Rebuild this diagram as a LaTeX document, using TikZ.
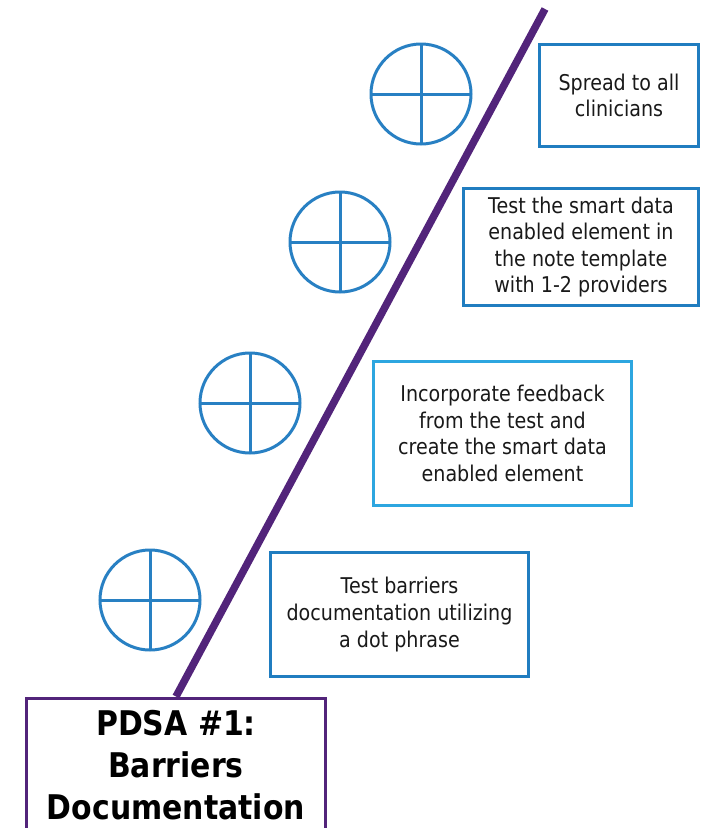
\documentclass[tikz,border=0pt]{standalone}
\usepackage{fontspec}
\setmainfont{DejaVu Sans}[FakeStretch=0.88]
\definecolor{stepblue}{RGB}{32,125,192}
\definecolor{lightblue}{RGB}{45,166,224}
\definecolor{circblue}{RGB}{40,128,195}
\definecolor{pdsapurple}{RGB}{82,36,122}
\tikzset{
  stepbox/.style={draw=stepblue, line width=3pt, rectangle, align=center, inner sep=0pt,
    font=\fontsize{21.7}{26.6}\selectfont, text=black!90},
  cycle/.style={draw=circblue, line width=3pt, circle, minimum size=100pt, inner sep=0pt,
    path picture={
      \draw[circblue, line width=3pt] (path picture bounding box.north) -- (path picture bounding box.south);
      \draw[circblue, line width=3pt] (path picture bounding box.west) -- (path picture bounding box.east);
    }},
  titlebox/.style={draw=pdsapurple, line width=3pt, rectangle, align=center, inner sep=0pt,
    font=\fontsize{34}{42}\selectfont\bfseries, text=black},
  ramp/.style={draw=pdsapurple, line width=7.5pt}
}
\begin{document}
\begin{tikzpicture}[x=1pt,y=-1pt]
\useasboundingbox (0,0) rectangle (701,828);
\clip (0,0) rectangle (701,828);
\fill[white] (0,0) rectangle (701,828);

% title box
\node[titlebox, minimum width=299pt, minimum height=134pt] (pdsa) at (176,765)
  {PDSA \#1:\\Barriers\\Documentation};

% diagonal ramp
\coordinate (top) at (545,9);
\draw[ramp] (pdsa.north) -- (top);

% steps
\node[stepbox, minimum width=159pt, minimum height=102pt] (s4) at (619,95.5)
  {Spread to all\\clinicians};
\node[stepbox, minimum width=235pt, minimum height=117pt] (s3) at (581,247)
  {Test the smart data\\enabled element in\\the note template\\with 1-2 providers};
\node[stepbox, draw=lightblue, minimum width=258pt, minimum height=144pt] (s2) at (502.5,433.5)
  {Incorporate feedback\\from the test and\\create the smart data\\enabled element};
\node[stepbox, minimum width=258pt, minimum height=124pt] (s1) at (399.5,614.5)
  {Test barriers\\documentation utilizing\\a dot phrase};

% PDSA cycle circles
\node[cycle] (c4) at (421,94) {};
\node[cycle] (c3) at (340,242) {};
\node[cycle] (c2) at (250,403) {};
\node[cycle] (c1) at (150,600) {};
\end{tikzpicture}
\end{document}
